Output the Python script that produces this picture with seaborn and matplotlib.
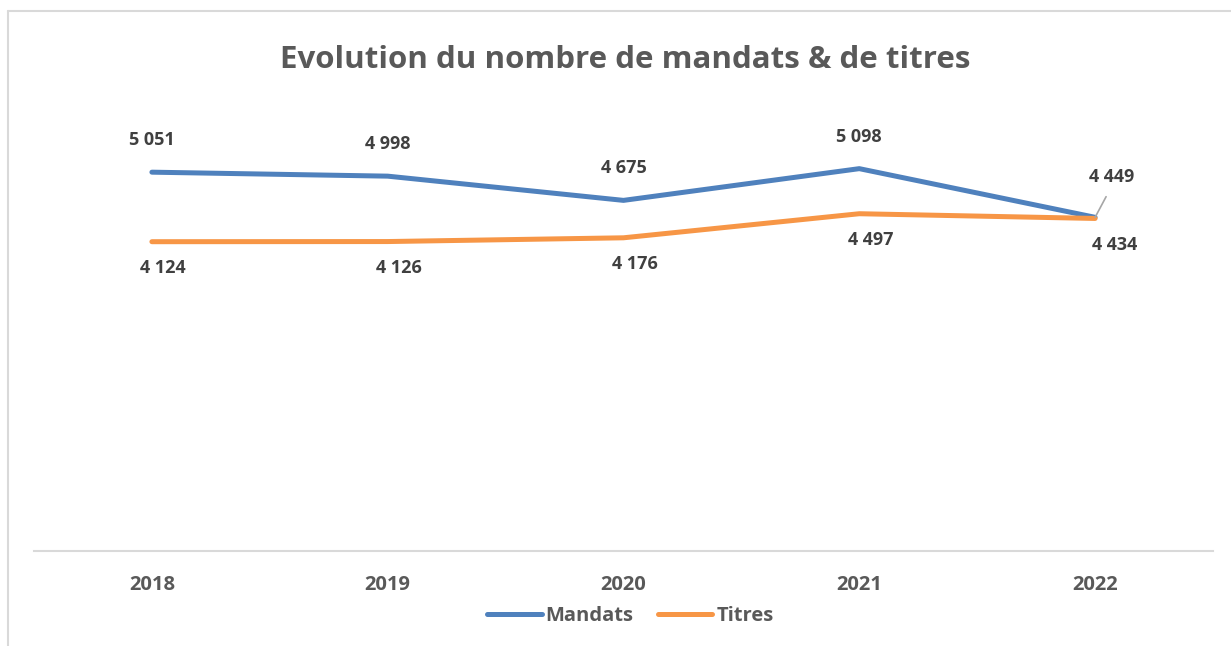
import matplotlib
matplotlib.use("Agg")
import matplotlib.pyplot as plt
import seaborn as sns
import pandas as pd
from matplotlib.lines import Line2D

years = ["2018", "2019", "2020", "2021", "2022"]
mandats = [5051, 4998, 4675, 5098, 4449]
titres = [4124, 4126, 4176, 4497, 4434]
series_names = ["Mandats", "Titres"]
colors = ["#4F81BD", "#F79646"]

sns.set_theme(style="white")
plt.rcParams['font.family'] = ['Open Sans', 'DejaVu Sans']

df = pd.DataFrame({
    "year": years * 2,
    "value": mandats + titres,
    "series": [series_names[0]] * len(years) + [series_names[1]] * len(years),
})

fig = plt.figure(figsize=(12.31, 6.46), dpi=100)
ax = fig.add_axes([34 / 1231, 95 / 646, (1213 - 34) / 1231, (551 - 101) / 646])

sns.lineplot(data=df, x="year", y="value", hue="series", palette=colors,
             linewidth=3.6, sort=False, legend=False, ax=ax)
for ln in ax.get_lines():
    ln.set_solid_capstyle("round")
    ln.set_solid_joinstyle("round")

ax.set_ylim(0, 6000)
ax.set_xlim(-0.5, len(years) - 0.5)
ax.set_yticks([])
ax.set_xlabel("")
ax.set_ylabel("")
for s in ["top", "right", "left"]:
    ax.spines[s].set_visible(False)
ax.spines["bottom"].set_color("#D9D9D9")
ax.spines["bottom"].set_linewidth(1.5)
ax.tick_params(axis="x", length=0, pad=17)
for t in ax.get_xticklabels():
    t.set_fontweight("bold")
    t.set_fontsize(14.5)
    t.set_color("#595959")

def fmt(v):
    return f"{v:,}".replace(",", " ")

lab_color = "#404040"
fs = 13
for i, v in enumerate(mandats):
    if i == len(years) - 1:
        ax.annotate(fmt(v), xy=(i, v), xytext=(12, 29), textcoords="offset points",
                    ha="center", va="center", fontsize=fs, fontweight="bold", color=lab_color,
                    arrowprops=dict(arrowstyle="-", color="#A6A6A6", lw=1.2,
                                    shrinkA=6, shrinkB=0, relpos=(0.5, 0.0)))
    else:
        ax.annotate(fmt(v), xy=(i, v), xytext=(0, 23), textcoords="offset points",
                    ha="center", va="center", fontsize=fs, fontweight="bold", color=lab_color)
for i, v in enumerate(titres):
    dx = 14 if i == len(years) - 1 else 8
    ax.annotate(fmt(v), xy=(i, v), xytext=(dx, -19), textcoords="offset points",
                ha="center", va="center", fontsize=fs, fontweight="bold", color=lab_color)

fig.text(0.508, 0.907, "Evolution du nombre de mandats & de titres", ha="center", va="center",
         fontsize=22.5, fontweight="bold", color="#595959")

handles = [Line2D([0], [0], color=c, lw=3.6, solid_capstyle="round") for c in colors]
leg = fig.legend(handles, series_names, loc="center", bbox_to_anchor=(0.512, 0.046),
                 ncol=2, frameon=False, handlelength=2.7, handletextpad=0.2,
                 columnspacing=1.2, prop={"weight": "bold", "size": 14.5})
for t in leg.get_texts():
    t.set_color("#595959")

# chart border (top and left edges visible)
fig.add_artist(Line2D([8 / 1231, 1], [1 - 11 / 646, 1 - 11 / 646], color="#D9D9D9", lw=1.5,
                      transform=fig.transFigure))
fig.add_artist(Line2D([8 / 1231, 8 / 1231], [0, 1 - 11 / 646], color="#D9D9D9", lw=1.5,
                      transform=fig.transFigure))

fig.savefig("out.png", dpi=100, facecolor="white")
